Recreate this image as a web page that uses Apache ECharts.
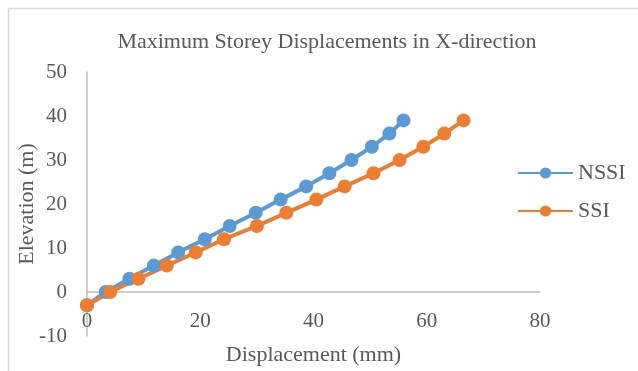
<!DOCTYPE html>
<html>
<head>
<meta charset="utf-8">
<script src="https://cdn.jsdelivr.net/npm/echarts@6/dist/echarts.min.js"></script>
<style>
  html, body { margin: 0; padding: 0; background: #fff; }
  #chart { width: 638px; height: 371px; }
</style>
</head>
<body>
<div id="chart"></div>
<script>
// Storey elevations (m) and peak lateral displacement (mm) per model
const elevations = [-3, 0, 3, 6, 9, 12, 15, 18, 21, 24, 27, 30, 33, 36, 39];
const nssiDisp = [0, 3.3, 7.5, 11.8, 16.1, 20.8, 25.2, 29.8, 34.2, 38.7, 42.8, 46.7, 50.3, 53.4, 55.9];
const ssiDisp  = [0, 4.1, 9.1, 14.1, 19.2, 24.2, 30.0, 35.2, 40.5, 45.5, 50.6, 55.2, 59.4, 63.1, 66.5];
const xTicks = [0, 20, 40, 60, 80];
const yTicks = [-10, 0, 10, 20, 30, 40, 50];

const FONT = 'Liberation Serif';
const TEXT = '#595959';
const AXIS = '#bfbfbf';

const pairs = (xs) => xs.map((x, i) => [x, elevations[i]]);

const chart = echarts.init(document.getElementById('chart'), null, { renderer: 'canvas' });

chart.setOption({
  animation: false,
  backgroundColor: '#ffffff',
  textStyle: { fontFamily: FONT, color: TEXT },
  title: {
    text: 'Maximum Storey Displacements in X-direction',
    left: 327, top: 31, textAlign: 'center', padding: 0,
    textStyle: { fontFamily: FONT, fontSize: 22, fontWeight: 'normal', color: TEXT }
  },
  legend: {
    orient: 'vertical',
    left: 517, top: 162, padding: 0,
    itemWidth: 55, itemHeight: 14, itemGap: 16,
    textStyle: { fontFamily: FONT, fontSize: 22, color: TEXT },
    data: ['NSSI', 'SSI']
  },
  grid: { left: 87, right: 98, top: 72, bottom: 35, containLabel: false, outerBoundsMode: 'none' },
  xAxis: {
    type: 'value',
    min: xTicks[0], max: xTicks[xTicks.length - 1], interval: 20,
    name: 'Displacement (mm)', nameLocation: 'middle', nameGap: 8,
    nameMoveOverlap: false,
    nameTextStyle: { fontFamily: FONT, fontSize: 22, color: TEXT },
    axisLine: { onZero: true, lineStyle: { color: AXIS, width: 1.5 } },
    axisTick: { show: false },
    splitLine: { show: false },
    axisLabel: { margin: -25, fontFamily: FONT, fontSize: 21, color: TEXT }
  },
  yAxis: {
    type: 'value',
    min: yTicks[0], max: yTicks[yTicks.length - 1], interval: 10,
    name: 'Elevation (m)', nameLocation: 'middle', nameGap: 49,
    nameMoveOverlap: false,
    nameTextStyle: { fontFamily: FONT, fontSize: 22, color: TEXT },
    axisLine: { show: true, onZero: false, lineStyle: { color: AXIS, width: 1.5 } },
    axisTick: { show: false },
    splitLine: { show: false },
    axisLabel: { margin: 20, fontFamily: FONT, fontSize: 21, color: TEXT }
  },
  graphic: [
    // chart-area frame (top and left edges)
    { type: 'line', shape: { x1: 8, y1: 8.5, x2: 638, y2: 8.5 }, style: { stroke: '#d9d9d9', lineWidth: 1.5 }, silent: true },
    { type: 'line', shape: { x1: 8.5, y1: 8, x2: 8.5, y2: 371 }, style: { stroke: '#d9d9d9', lineWidth: 1.5 }, silent: true }
  ],
  series: [
    {
      name: 'NSSI', type: 'line',
      data: pairs(nssiDisp),
      symbol: 'circle', symbolSize: 14, showSymbol: true,
      itemStyle: { color: '#5b9bd5' },
      lineStyle: { color: '#5b9bd5', width: 4 }
    },
    {
      name: 'SSI', type: 'line',
      data: pairs(ssiDisp),
      symbol: 'circle', symbolSize: 14, showSymbol: true,
      itemStyle: { color: '#ed7d31' },
      lineStyle: { color: '#ed7d31', width: 4 }
    }
  ]
});
</script>
</body>
</html>
